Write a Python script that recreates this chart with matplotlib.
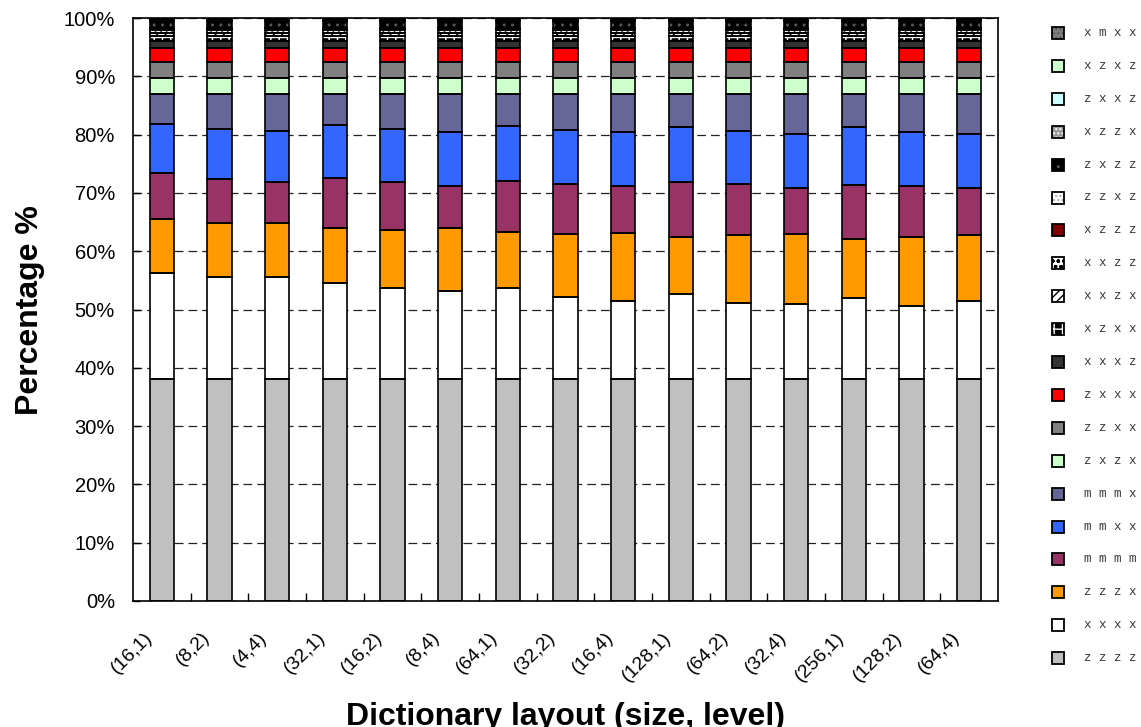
import matplotlib
matplotlib.use("Agg")
import matplotlib.pyplot as plt
import matplotlib.transforms as mtransforms
from matplotlib.patches import Rectangle
from matplotlib.ticker import FuncFormatter, FixedLocator
import numpy as np

plt.rcParams["font.family"] = ["Liberation Sans", "DejaVu Sans"]

# ---------------------------------------------------------------- data
categories = ["(16,1)", "(8,2)", "(4,4)", "(32,1)", "(16,2)", "(8,4)", "(64,1)",
              "(32,2)", "(16,4)", "(128,1)", "(64,2)", "(32,4)", "(256,1)",
              "(128,2)", "(64,4)"]

# stacked shares (%) from the bottom of each bar upwards
zzzz = [38.0] * 15
xxxx = [18.3, 17.5, 17.5, 16.6, 15.7, 15.2, 15.7, 14.1, 13.4, 14.6, 13.2, 12.9, 14.0, 12.6, 13.4]
zzzx = [9.3, 9.3, 9.3, 9.3, 9.9, 10.7, 9.6, 10.9, 11.8, 9.8, 11.5, 12.0, 10.1, 11.8, 11.3]
mmmm = [7.8, 7.5, 7.0, 8.6, 8.2, 7.3, 8.7, 8.5, 8.0, 9.4, 8.8, 7.9, 9.3, 8.7, 8.1]
mmxx = [8.4, 8.7, 8.9, 9.1, 9.2, 9.3, 9.4, 9.3, 9.2, 9.5, 9.2, 9.3, 9.9, 9.3, 9.3]
mmmx = [5.1, 5.9, 6.2, 5.3, 5.9, 6.4, 5.5, 6.1, 6.5, 5.6, 6.2, 6.8, 5.6, 6.5, 6.8]
zxzx = [2.8] * 15
zzxx = [2.7] * 15
zxxx = [2.4] * 15
xxxz = [1.3] * 15
xzxx = [0.8] * 15
xxzx = [0.6] * 15
xxzz = [0.5] * 15
xzzz = [0.1] * 15
zzxz = [0.1] * 15
zxzz = [1.3] * 15
xzzx = [0.1] * 15
zxxz = [0.1] * 15
xzxz = [0.1] * 15
xmxx = [0.1] * 15

stack = [
    ("zzzz", zzzz), ("xxxx", xxxx), ("zzzx", zzzx), ("mmmm", mmmm),
    ("mmxx", mmxx), ("mmmx", mmmx), ("zxzx", zxzx), ("zzxx", zzxx),
    ("zxxx", zxxx), ("xxxz", xxxz), ("xzxx", xzxx), ("xxzx", xxzx),
    ("xxzz", xxzz), ("xzzz", xzzz), ("zzxz", zzxz), ("zxzz", zxzz),
    ("xzzx", xzzx), ("zxxz", zxxz), ("xzxz", xzxz), ("xmxx", xmxx),
]

# fill colour, hatch pattern, hatch colour
styles = {
    "zzzz": ("#C0C0C0", None, None),
    "xxxx": ("#FFFFFF", None, None),
    "zzzx": ("#FF9900", None, None),
    "mmmm": ("#993366", None, None),
    "mmxx": ("#3366FF", None, None),
    "mmmx": ("#666699", None, None),
    "zxzx": ("#CCFFCC", None, None),
    "zzxx": ("#808080", None, None),
    "zxxx": ("#FF0000", None, None),
    "xxxz": ("#333333", None, None),
    "xzxx": ("#000000", "++", "#FFFFFF"),
    "xxzx": ("#FFFFFF", "////", "#000000"),
    "xxzz": ("#FFFFFF", "ooo", "#000000"),
    "xzzz": ("#800000", None, None),
    "zzxz": ("#FFFFFF", "....", "#AAAAAA"),
    "zxzz": ("#000000", "..", "#555555"),
    "xzzx": ("#999999", "....", "#FFFFFF"),
    "zxxz": ("#CCFFFF", None, None),
    "xzxz": ("#CCFFCC", None, None),
    "xmxx": ("#808080", "....", "#555555"),
}

# ---------------------------------------------------------------- figure
W, H = 1141, 727
fig = plt.figure(figsize=(W / 100, H / 100), dpi=100)
ax = fig.add_axes([133 / W, 1 - 601 / H, (998 - 133) / W, (601 - 18) / H])

x = np.arange(len(categories))
width = 0.42
bottom = np.zeros(len(categories))
for name, vals in stack:
    vals = np.asarray(vals, dtype=float)
    face, hatch, hcol = styles[name]
    ax.bar(x, vals, width, bottom=bottom, color=face,
           edgecolor=hcol if hatch else "none", hatch=hatch,
           linewidth=0, zorder=2)
    ax.bar(x, vals, width, bottom=bottom, facecolor="none",
           edgecolor="black", linewidth=1.2, zorder=3)
    bottom += vals

ax.set_xlim(-0.5, len(categories) - 0.5)
ax.set_ylim(0, 100)

# y axis
ax.yaxis.set_major_locator(FixedLocator(np.arange(0, 101, 10)))
ax.yaxis.set_major_formatter(FuncFormatter(lambda v, p: f"{v:.0f}%"))
ax.tick_params(axis="y", direction="in", length=5, width=1, pad=13,
               labelsize=14.5, labelcolor="black")
ax.yaxis.grid(True, linestyle=(0, (7, 4)), color="#222222", linewidth=0.9)
ax.set_axisbelow(True)

# x axis: small inward marks between groups, labels at group centres
ax.set_xticks(np.arange(0.5, len(categories) - 1, 1.0))
ax.set_xticklabels([])
ax.tick_params(axis="x", which="major", direction="in", length=6, width=1)
ax.set_xticks(x, minor=True)
ax.set_xticklabels(categories, minor=True, rotation=45,
                   rotation_mode="anchor", ha="right", va="center",
                   fontsize=14)
ax.tick_params(axis="x", which="minor", length=0, pad=0)
offset = mtransforms.ScaledTranslation(-12.5 / 100, -34 / 100, fig.dpi_scale_trans)
for lab in ax.xaxis.get_minorticklabels():
    lab.set_transform(lab.get_transform() + offset)

for s in ax.spines.values():
    s.set_color("black")
    s.set_linewidth(1.2)

# axis titles
fig.text(30 / W, 1 - 310 / H, "Percentage %", rotation=90, ha="center",
         va="center", fontsize=23, fontweight="bold")
fig.text(565 / W, 2 / H, "Dictionary layout (size, level)", ha="center",
         va="baseline", fontsize=23, fontweight="bold")

# legend (top entry = top of stack)
rs = 12
for i, (name, _) in enumerate(reversed(stack)):
    yc = 33 + i * 32.9
    face, hatch, hcol = styles[name]
    x0, y0 = 1052 / W, 1 - (yc + rs / 2) / H
    fig.add_artist(Rectangle((x0, y0), rs / W, rs / H, transform=fig.transFigure,
                             facecolor=face, edgecolor=hcol if hatch else "none",
                             hatch=hatch, linewidth=0))
    fig.add_artist(Rectangle((x0, y0), rs / W, rs / H, transform=fig.transFigure,
                             facecolor="none", edgecolor="black", linewidth=1.3))
    fig.text(1084 / W, 1 - yc / H, " ".join(name), ha="left", va="center",
             family="Liberation Mono", fontsize=9, color="#333333")

fig.savefig("out.png", dpi=100)
